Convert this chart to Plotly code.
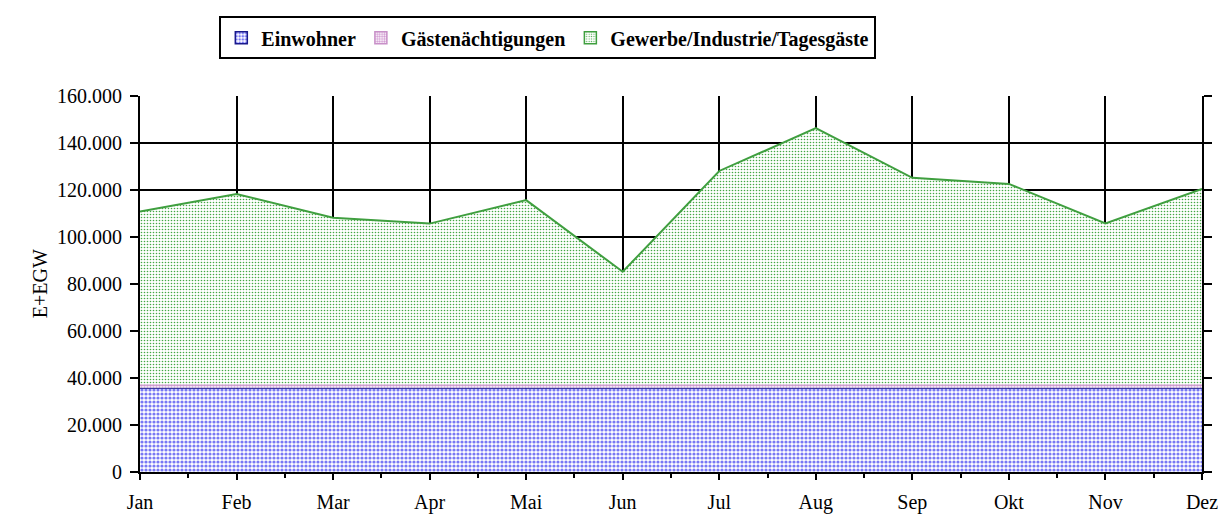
import plotly.graph_objects as go

months = ["Jan", "Feb", "Mar", "Apr", "Mai", "Jun", "Jul", "Aug", "Sep", "Okt", "Nov", "Dez"]
einwohner = [35600] * 12
gaeste = [1400] * 12
gewerbe = [73800, 81300, 71200, 68700, 78700, 48200, 91100, 109300, 88200, 85600, 68800, 83400]

y_ticks = [0, 20000, 40000, 60000, 80000, 100000, 120000, 140000, 160000]

x = list(range(len(months)))
SERIF = "Liberation Serif, Times New Roman, serif"

series = [
    ("Einwohner", einwohner, "#1a1a8c", 1, dict(shape=".", size=4, solidity=0.5, fgcolor="#7878f4")),
    ("Gästenächtigungen", gaeste, "#c890c8", 1, dict(shape=".", size=3, solidity=0.5, fgcolor="#d29ad2")),
    ("Gewerbe/Industrie/Tagesgäste", gewerbe, "#3f9f3f", 2, dict(shape=".", size=3, solidity=0.22, fgcolor="#45a845")),
]

fig = go.Figure()
for name, vals, lc, lw, pat in series:
    fig.add_trace(go.Scatter(
        x=x, y=vals, name=name, stackgroup="s", mode="lines",
        line=dict(color=lc, width=lw),
        fillcolor="#ffffff",
        fillpattern=dict(bgcolor="#ffffff", fillmode="replace", **pat),
        showlegend=False,
    ))
# legend-only entries (square swatches)
for name, vals, lc, lw, pat in series:
    fig.add_trace(go.Bar(
        x=[None], y=[None], name=name, showlegend=True,
        marker=dict(color="#ffffff", line=dict(color=lc, width=1.5),
                    pattern=dict(bgcolor="#ffffff", fillmode="replace", **pat)),
    ))

# the page body adds an 8px offset; the figure is sized so the plot area lands
# at x 140..1202, y 96..472 in the 1226x515 window
fig.update_layout(
    width=1218, height=507,
    margin=dict(l=132, r=24, t=88, b=43, autoexpand=False),
    paper_bgcolor="white", plot_bgcolor="white",
    font=dict(family=SERIF, size=18, color="black"),
    showlegend=True,
    legend=dict(
        orientation="h", x=0.384, xanchor="center", y=1.212, yanchor="top",
        font=dict(family=SERIF, size=20, color="black", weight="bold"),
        bordercolor="black", borderwidth=2, bgcolor="white",
        traceorder="normal", itemwidth=30,
    ),
    xaxis=dict(
        range=[0, 11], tickmode="array", tickvals=x, ticktext=months,
        showgrid=True, gridcolor="black", gridwidth=1.5,
        showline=True, linecolor="black", linewidth=2,
        ticks="outside", ticklen=6, tickwidth=1.5, tickcolor="black",
        minor=dict(dtick=0.5, tick0=0, ticks="outside", ticklen=4, tickwidth=1.5, tickcolor="black", showgrid=False),
        tickfont=dict(family=SERIF, size=20), zeroline=False, automargin=False,
        ticklabelstandoff=5,
    ),
    yaxis=dict(
        range=[0, 160000], tickmode="array", tickvals=y_ticks,
        tickformat=",d",
        showgrid=True, gridcolor="black", gridwidth=1.5,
        showline=True, linecolor="black", linewidth=2, mirror="ticks",
        ticks="outside", ticklen=8, tickwidth=1.5, tickcolor="black",
        tickfont=dict(family=SERIF, size=20), zeroline=False, automargin=False,
        ticklabelstandoff=4,
    ),
    separators=",.",
    annotations=[dict(
        text="E+EGW", xref="paper", yref="paper", x=-0.094, y=0.5,
        xanchor="center", yanchor="middle", textangle=-90, showarrow=False,
        font=dict(family=SERIF, size=20, color="black"),
    )],
)

fig.write_html("out.html")
